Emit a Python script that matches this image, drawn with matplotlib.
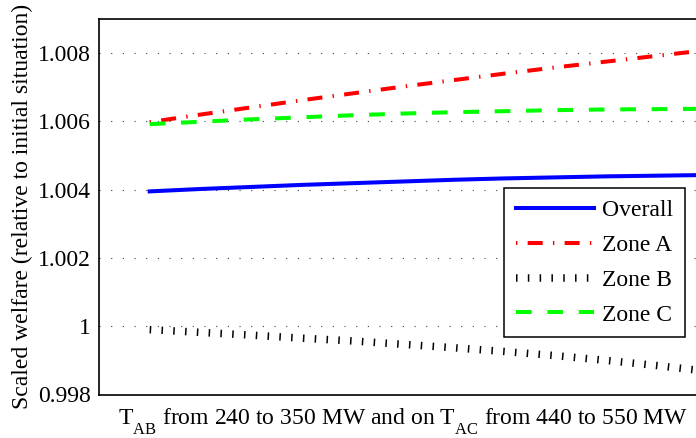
import numpy as np
import matplotlib
matplotlib.use("Agg")
import matplotlib.pyplot as plt
import matplotlib._mathtext as mathtext_internal

plt.rcParams['font.family'] = ['Liberation Serif', 'DejaVu Serif']
plt.rcParams['mathtext.fontset'] = 'custom'
plt.rcParams['mathtext.rm'] = 'Liberation Serif'
plt.rcParams['lines.scale_dashes'] = False
# MATLAB drops subscripts well below the baseline
mathtext_internal.FontConstantsBase.sub1 = 0.72

# steps of the transfer limit (1..12)
steps = np.arange(1, 13)
overall = [1.00395, 1.00402, 1.00408, 1.00414, 1.00419, 1.00424,
           1.00429, 1.00433, 1.00436, 1.00439, 1.00441, 1.00443]
zone_a = [1.00598, 1.00620, 1.00641, 1.00662, 1.00682, 1.00702,
          1.00721, 1.00740, 1.00758, 1.00775, 1.00792, 1.00809]
zone_b = [0.99990, 0.99982, 0.99974, 0.99965, 0.99957, 0.99947,
          0.99937, 0.99926, 0.99914, 0.99900, 0.99885, 0.99868]
zone_c = [1.00592, 1.00599, 1.00606, 1.00612, 1.00618, 1.00623,
          1.00627, 1.00630, 1.00633, 1.00635, 1.00636, 1.00637]
yticks = [0.998, 1.0, 1.002, 1.004, 1.006, 1.008]
ytick_labels = ['0.998', '1', '1.002', '1.004', '1.006', '1.008']

fs = 17

fig = plt.figure(figsize=(6.96, 4.38), dpi=100)
ax = fig.add_axes([99 / 696, 1 - 394.5 / 438, 608 / 696, 375.5 / 438])

ax.plot(steps, overall, color="#0000ff", lw=2.9, label="Overall")
ax.plot(steps, zone_a, color="#ff0000", lw=2.9, dashes=(1.0, 7.4, 10.8, 7.4), label="Zone A")
ax.plot(steps, zone_b, color="black", lw=5.4, dashes=(1.1, 7.4), label="Zone B")
ax.plot(steps, zone_c, color="#00ff00", lw=2.9, dashes=(11.3, 11.3), label="Zone C")

ax.set_xlim(0, 12)
ax.set_ylim(0.998, 1.009)
ax.set_xticks([])
ax.set_yticks(yticks)
ax.set_yticklabels(ytick_labels)
ax.tick_params(axis="y", length=0, pad=6, labelsize=fs)
ax.yaxis.grid(True, color="0.25", lw=0.8, linestyle=(0, (0.8, 7.6)))

for s in ax.spines.values():
	s.set_linewidth(1.2)

ax.set_ylabel("Scaled welfare (relative to initial situation)", fontsize=fs, labelpad=3)
ax.set_xlabel(r"T$_{\mathrm{AB}}$ from 240 to 350 MW and on T$_{\mathrm{AC}}$ from 440 to 550 MW",
              fontsize=fs, labelpad=9)

leg = ax.legend(loc="upper right", bbox_to_anchor=(0.9638, 0.5499), borderaxespad=0,
                fontsize=fs, handlelength=3.3, handletextpad=0.35, labelspacing=0.56,
                fancybox=False, framealpha=1, edgecolor="black", borderpad=0.5)
leg.get_frame().set_linewidth(1.1)

plt.savefig("out.png", dpi=100)
